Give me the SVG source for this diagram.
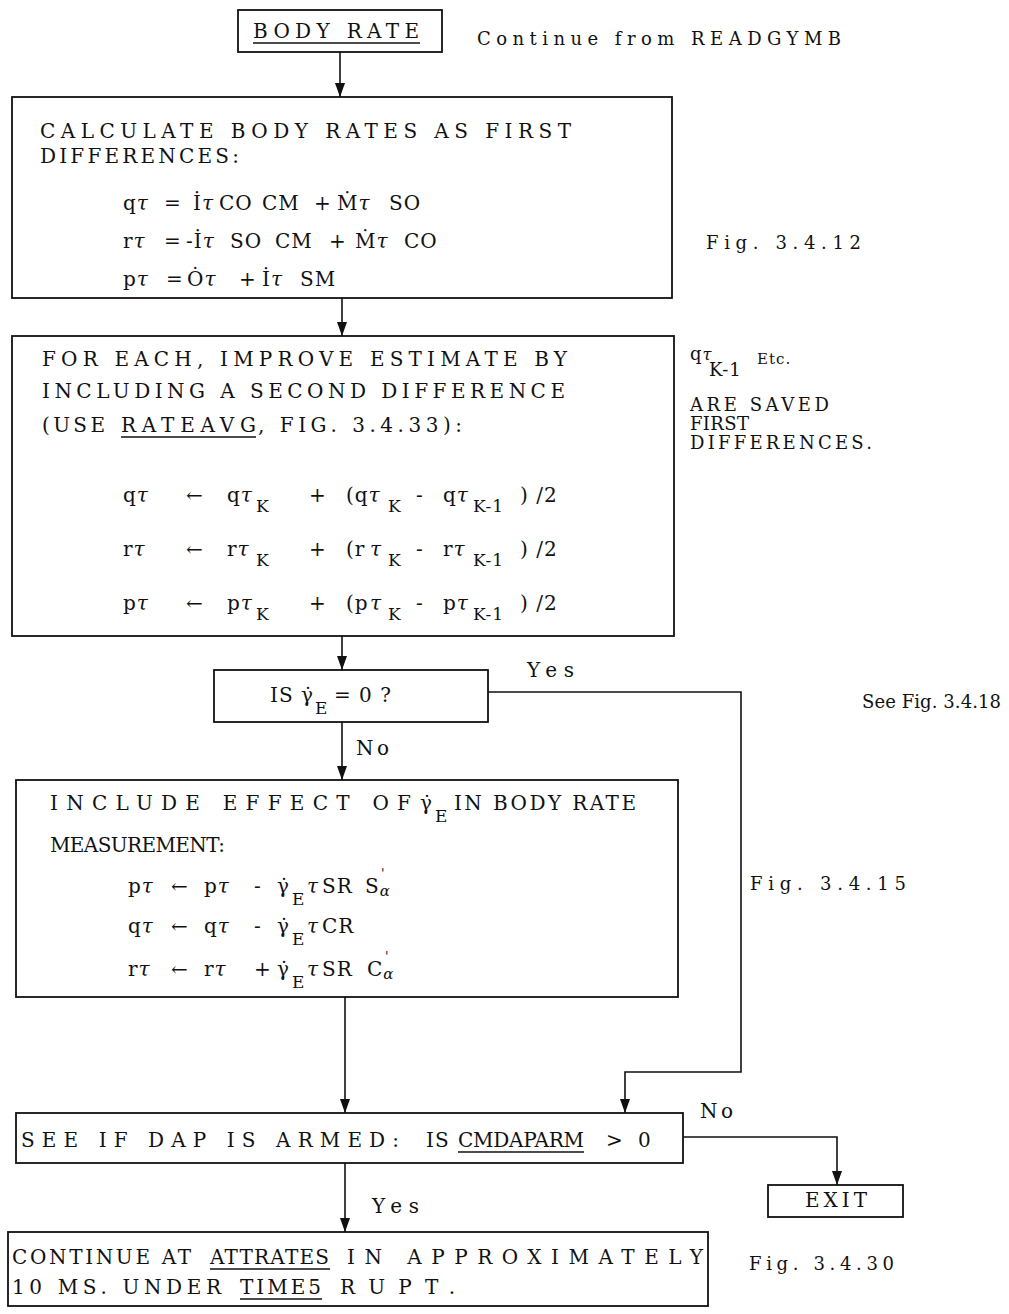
<svg xmlns="http://www.w3.org/2000/svg" width="1009" height="1314" viewBox="0 0 1009 1314">
<defs>
<marker id="ah" markerWidth="14" markerHeight="10" refX="14" refY="5" orient="auto" markerUnits="userSpaceOnUse" viewBox="0 0 14 10">
<path d="M0,0 L14,5 L0,10 Z" fill="#111"/>
</marker>
<style>
.box{fill:#fff;stroke:#111;stroke-width:1.8}
.ln{fill:none;stroke:#111;stroke-width:1.6}
text{font-family:"DejaVu Serif","Liberation Serif",serif;font-size:20px;fill:#111;letter-spacing:1px}
.sm{font-size:18px}
.sub{font-size:17px}
.it{font-style:italic}
.ul{stroke:#111;stroke-width:1.6}
</style>
</defs>
<rect width="1009" height="1314" fill="#fff"/>

<g id="connectors">
<line class="ln" x1="340" y1="52" x2="340" y2="97" marker-end="url(#ah)"/>
<line class="ln" x1="342" y1="298" x2="342" y2="336" marker-end="url(#ah)"/>
<line class="ln" x1="342" y1="636" x2="342" y2="670" marker-end="url(#ah)"/>
<polyline class="ln" points="488,692 741,692 741,1072 625,1072 625,1113" marker-end="url(#ah)"/>
<line class="ln" x1="342" y1="722" x2="342" y2="780" marker-end="url(#ah)"/>
<line class="ln" x1="345" y1="997" x2="345" y2="1113" marker-end="url(#ah)"/>
<polyline class="ln" points="683,1137 837,1137 837,1185" marker-end="url(#ah)"/>
<line class="ln" x1="345" y1="1163" x2="345" y2="1232" marker-end="url(#ah)"/>
<text x="527" y="677" textLength="48" lengthAdjust="spacing">Yes</text>
<text x="356" y="755" textLength="34" lengthAdjust="spacing">No</text>
<text x="700" y="1118" textLength="34" lengthAdjust="spacing">No</text>
<text x="372" y="1213" textLength="48" lengthAdjust="spacing">Yes</text>
</g>

<g id="n_bodyrate">
<rect class="box" x="238" y="10" width="204" height="42"/>
<text x="253" y="38" textLength="167" lengthAdjust="spacing">BODY RATE</text>
<line class="ul" x1="253" y1="43" x2="420" y2="43"/>
</g>
<text x="477" y="45" textLength="365" lengthAdjust="spacing" class="sm">Continue from READGYMB</text>

<g id="n_calc">
<rect class="box" x="12" y="97" width="660" height="201"/>
<text x="40" y="138" textLength="532" lengthAdjust="spacing">CALCULATE  BODY RATES AS FIRST</text>
<text x="40" y="163" textLength="200" lengthAdjust="spacing">DIFFERENCES:</text>
<text y="210"><tspan x="123">q</tspan><tspan class="it">τ</tspan><tspan x="164">=</tspan><tspan x="193">İ</tspan><tspan class="it">τ</tspan><tspan x="219">CO</tspan><tspan x="262">CM</tspan><tspan x="314">+</tspan><tspan x="337">Ṁ</tspan><tspan class="it">τ</tspan><tspan x="389">SO</tspan></text>
<text y="248"><tspan x="123">r</tspan><tspan class="it">τ</tspan><tspan x="164">=</tspan><tspan x="186">-İ</tspan><tspan class="it">τ</tspan><tspan x="230">SO</tspan><tspan x="275">CM</tspan><tspan x="329">+</tspan><tspan x="355">Ṁ</tspan><tspan class="it">τ</tspan><tspan x="404">CO</tspan></text>
<text y="286"><tspan x="123">p</tspan><tspan class="it">τ</tspan><tspan x="166">=</tspan><tspan x="187">Ȯ</tspan><tspan class="it">τ</tspan><tspan x="239">+</tspan><tspan x="262">İ</tspan><tspan class="it">τ</tspan><tspan x="300">SM</tspan></text>
</g>
<text x="706" y="249" textLength="156" lengthAdjust="spacing" class="sm">Fig. 3.4.12</text>

<g id="n_improve">
<rect class="box" x="12" y="336" width="662" height="300"/>
<text x="42" y="366" textLength="526" lengthAdjust="spacing">FOR EACH, IMPROVE ESTIMATE BY</text>
<text x="42" y="398" textLength="524" lengthAdjust="spacing">INCLUDING A SECOND DIFFERENCE</text>
<text y="432"><tspan x="42" textLength="64" lengthAdjust="spacing">(USE</tspan><tspan x="121" textLength="136" lengthAdjust="spacing">RATEAVG</tspan><tspan x="258" textLength="205" lengthAdjust="spacing">, FIG. 3.4.33):</tspan></text>
<line class="ul" x1="121" y1="437" x2="256" y2="437"/>
<text y="502"><tspan x="123">q</tspan><tspan class="it">τ</tspan><tspan x="186">←</tspan><tspan x="227">q</tspan><tspan class="it">τ</tspan><tspan class="sub" x="256" dy="10">K</tspan><tspan x="309" dy="-10">+</tspan><tspan x="346">(q</tspan><tspan class="it">τ</tspan><tspan class="sub" x="388" dy="10">K</tspan><tspan x="416" dy="-10">-</tspan><tspan x="443">q</tspan><tspan class="it">τ</tspan><tspan class="sub" x="473" dy="10">K-1</tspan><tspan x="520" dy="-10">) /2</tspan></text>
<text y="556"><tspan x="123">r</tspan><tspan class="it">τ</tspan><tspan x="186">←</tspan><tspan x="227">r</tspan><tspan class="it">τ</tspan><tspan class="sub" x="256" dy="10">K</tspan><tspan x="309" dy="-10">+</tspan><tspan x="346">(r</tspan><tspan class="it" x="370">τ</tspan><tspan class="sub" x="388" dy="10">K</tspan><tspan x="416" dy="-10">-</tspan><tspan x="443">r</tspan><tspan class="it">τ</tspan><tspan class="sub" x="473" dy="10">K-1</tspan><tspan x="520" dy="-10">) /2</tspan></text>
<text y="610"><tspan x="123">p</tspan><tspan class="it">τ</tspan><tspan x="186">←</tspan><tspan x="227">p</tspan><tspan class="it">τ</tspan><tspan class="sub" x="256" dy="10">K</tspan><tspan x="309" dy="-10">+</tspan><tspan x="346">(p</tspan><tspan class="it" x="370">τ</tspan><tspan class="sub" x="388" dy="10">K</tspan><tspan x="416" dy="-10">-</tspan><tspan x="443">p</tspan><tspan class="it">τ</tspan><tspan class="sub" x="473" dy="10">K-1</tspan><tspan x="520" dy="-10">) /2</tspan></text>
</g>
<text class="sm" y="360"><tspan x="690">q</tspan><tspan class="it" font-size="16">τ</tspan><tspan x="709" dy="16">K-1</tspan><tspan x="757" dy="-12" font-size="15">Etc.</tspan></text>
<text class="sm" x="690" y="411" textLength="140" lengthAdjust="spacing" font-size="16">ARE SAVED</text>
<text class="sm" x="690" y="430" textLength="60" lengthAdjust="spacing" font-size="16">FIRST</text>
<text class="sm" x="690" y="449" textLength="183" lengthAdjust="spacing" font-size="16">DIFFERENCES.</text>

<g id="n_decision">
<rect class="box" x="214" y="670" width="274" height="52"/>
<text y="702"><tspan x="270">IS γ̇</tspan><tspan class="sub" x="315" dy="12">E</tspan><tspan x="334" dy="-12">= 0 ?</tspan></text>
</g>
<text class="sm" x="862" y="708" textLength="140" lengthAdjust="spacing">See Fig. 3.4.18</text>

<g id="n_include">
<rect class="box" x="16" y="780" width="662" height="217"/>
<text y="810"><tspan x="50" textLength="362" lengthAdjust="spacing">INCLUDE EFFECT OF</tspan><tspan x="420">γ̇</tspan><tspan class="sub" x="435" dy="12">E</tspan><tspan x="454" dy="-12" textLength="183" lengthAdjust="spacing">IN BODY RATE</tspan></text>
<text x="50" y="852" textLength="176" lengthAdjust="spacing">MEASUREMENT:</text>
<text y="893"><tspan x="128">p</tspan><tspan class="it">τ</tspan><tspan x="171">←</tspan><tspan x="204">p</tspan><tspan class="it">τ</tspan><tspan x="254">-</tspan><tspan x="277">γ̇</tspan><tspan class="sub" x="292" dy="12">E</tspan><tspan class="it" x="307" dy="-12">τ</tspan><tspan x="322">SR</tspan><tspan x="365">S</tspan><tspan class="it" font-size="15" dy="3">α</tspan><tspan x="381" dy="-18" font-size="13">'</tspan></text>
<text y="933"><tspan x="128">q</tspan><tspan class="it">τ</tspan><tspan x="171">←</tspan><tspan x="204">q</tspan><tspan class="it">τ</tspan><tspan x="254">-</tspan><tspan x="277">γ̇</tspan><tspan class="sub" x="292" dy="12">E</tspan><tspan class="it" x="307" dy="-12">τ</tspan><tspan x="322">CR</tspan></text>
<text y="976"><tspan x="128">r</tspan><tspan class="it">τ</tspan><tspan x="171">←</tspan><tspan x="204">r</tspan><tspan class="it">τ</tspan><tspan x="254">+</tspan><tspan x="277">γ̇</tspan><tspan class="sub" x="292" dy="12">E</tspan><tspan class="it" x="307" dy="-12">τ</tspan><tspan x="322">SR</tspan><tspan x="367">C</tspan><tspan class="it" font-size="15" dy="3">α</tspan><tspan x="385" dy="-18" font-size="13">'</tspan></text>
</g>
<text x="750" y="890" textLength="157" lengthAdjust="spacing" class="sm">Fig. 3.4.15</text>

<g id="n_dap">
<rect class="box" x="16" y="1113" width="667" height="50"/>
<text y="1147"><tspan x="21" textLength="379" lengthAdjust="spacing">SEE IF DAP IS ARMED:</tspan><tspan x="426">IS</tspan><tspan x="458" textLength="127" lengthAdjust="spacing">CMDAPARM</tspan><tspan x="606">&gt;</tspan><tspan x="638">0</tspan></text>
<line class="ul" x1="458" y1="1152" x2="584" y2="1152"/>
</g>

<g id="n_exit">
<rect class="box" x="768" y="1185" width="135" height="32"/>
<text x="805" y="1207" textLength="63" lengthAdjust="spacing">EXIT</text>
</g>

<g id="n_continue">
<rect class="box" x="8" y="1232" width="700" height="74"/>
<text y="1264"><tspan x="12" textLength="180" lengthAdjust="spacing">CONTINUE AT</tspan><tspan x="210" textLength="120" lengthAdjust="spacing">ATTRATES</tspan><tspan x="347" textLength="357" lengthAdjust="spacing">IN APPROXIMATELY</tspan></text>
<line class="ul" x1="210" y1="1269" x2="330" y2="1269"/>
<text y="1294"><tspan x="12" textLength="210" lengthAdjust="spacing">10 MS.  UNDER</tspan><tspan x="240" textLength="82" lengthAdjust="spacing">TIME5</tspan><tspan x="340" textLength="116" lengthAdjust="spacing">RUPT.</tspan></text>
<line class="ul" x1="240" y1="1299" x2="322" y2="1299"/>
</g>
<text x="749" y="1270" textLength="146" lengthAdjust="spacing" class="sm">Fig. 3.4.30</text>
</svg>
